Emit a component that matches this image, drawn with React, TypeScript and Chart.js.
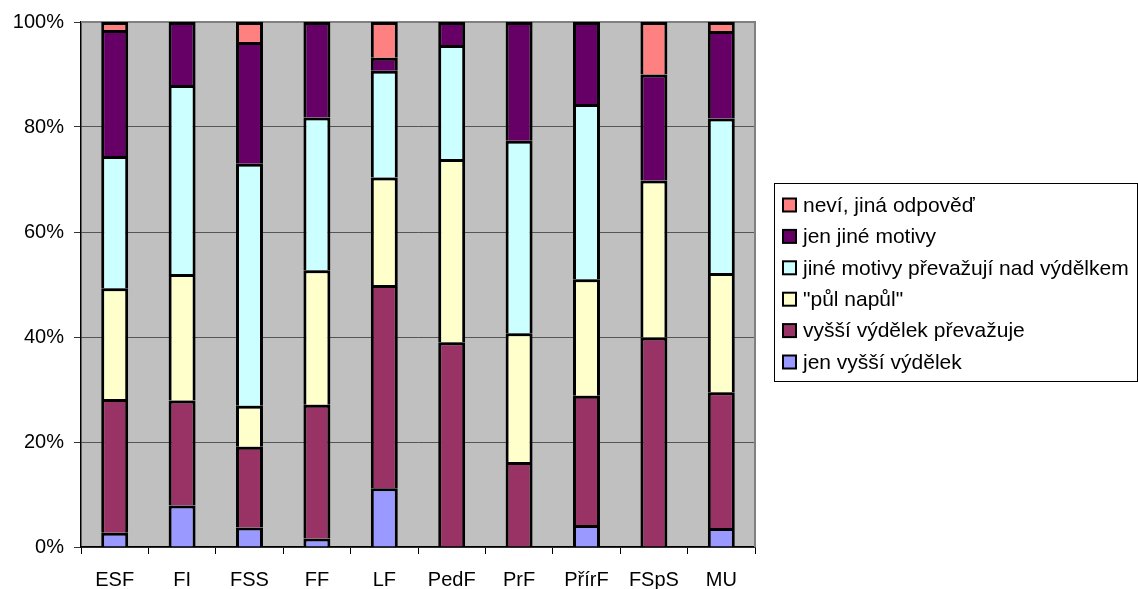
import { useEffect, useRef } from 'react';
import { Chart, registerables } from 'chart.js';

Chart.register(...registerables);

const categories = ['ESF', 'FI', 'FSS', 'FF', 'LF', 'PedF', 'PrF', 'PřírF', 'FSpS', 'MU'];
const seriesNames = [
  'jen vyšší výdělek',
  'vyšší výdělek převažuje',
  '"půl napůl"',
  'jiné motivy převažují nad výdělkem',
  'jen jiné motivy',
  'neví, jiná odpověď',
];
const seriesColors = ['#9999FF', '#993366', '#FFFFCC', '#CCFFFF', '#660066', '#FF8080'];

const jenVyssi = [2.7, 7.9, 3.7, 1.6, 11.2, 0, 0, 4.2, 0, 3.6];
const vyssiPrevazuje = [25.5, 20.0, 15.4, 25.5, 38.7, 39.0, 16.2, 24.6, 39.9, 25.9];
const pulNapul = [21.1, 24.1, 7.8, 25.6, 20.5, 34.9, 24.5, 22.2, 29.9, 22.7];
const jineMotivyPrevazuji = [25.2, 36.0, 46.1, 29.1, 20.3, 21.7, 36.7, 33.4, 0, 29.4];
const jenJineMotivy = [24.0, 12.0, 23.2, 18.2, 2.5, 4.4, 22.6, 15.6, 20.2, 16.7];
const nevi = [1.5, 0, 3.8, 0, 6.8, 0, 0, 0, 10.0, 1.7];

const seriesValues = [jenVyssi, vyssiPrevazuje, pulNapul, jineMotivyPrevazuji, jenJineMotivy, nevi];

const FONT = '"Liberation Sans", Arial, sans-serif';

const plotBackground = {
  id: 'plotBackground',
  beforeDraw(chart: any) {
    const { ctx, chartArea } = chart;
    ctx.save();
    ctx.fillStyle = '#C0C0C0';
    ctx.fillRect(chartArea.left, chartArea.top, chartArea.right - chartArea.left, chartArea.bottom - chartArea.top);
    ctx.restore();
  },
  beforeDatasetsDraw(chart: any) {
    const { ctx, chartArea } = chart;
    ctx.save();
    ctx.strokeStyle = '#808080';
    ctx.lineWidth = 2;
    ctx.beginPath();
    ctx.moveTo(chartArea.left, chartArea.top);
    ctx.lineTo(chartArea.right, chartArea.top);
    ctx.lineTo(chartArea.right, chartArea.bottom);
    ctx.stroke();
    ctx.restore();
  },
};

const boxLegend = {
  id: 'boxLegend',
  afterDraw(chart: any) {
    const { ctx } = chart;
    const ds = chart.data.datasets;
    ctx.save();
    ctx.strokeStyle = '#000';
    ctx.lineWidth = 1;
    ctx.strokeRect(774.5, 183.5, 363, 198);
    ctx.font = `21px ${FONT}`;
    ctx.textBaseline = 'middle';
    ctx.textAlign = 'left';
    for (let k = 0; k < ds.length; k++) {
      const d = ds[ds.length - 1 - k];
      const y = 205 + k * 31.4;
      ctx.fillStyle = d.backgroundColor;
      ctx.fillRect(783, y - 6.5, 13, 13);
      ctx.lineWidth = 2;
      ctx.strokeStyle = '#000';
      ctx.strokeRect(783, y - 6.5, 13, 13);
      ctx.fillStyle = '#000';
      ctx.fillText(d.label, 803, y + 1);
    }
    ctx.restore();
  },
};

export default function App() {
  const ref = useRef<HTMLCanvasElement>(null);

  useEffect(() => {
    if (!ref.current) return;
    Chart.defaults.color = '#000';
    const chart = new Chart(ref.current, {
      type: 'bar',
      data: {
        labels: categories,
        datasets: seriesNames.map((name, i) => ({
          label: name,
          data: seriesValues[i],
          backgroundColor: seriesColors[i],
          borderColor: '#000',
          borderWidth: 3,
          barPercentage: 0.4,
          categoryPercentage: 1,
        })),
      },
      options: {
        animation: false,
        responsive: true,
        maintainAspectRatio: false,
        layout: { padding: { left: 0, top: 22, right: 383, bottom: 0 } },
        plugins: {
          legend: { display: false },
          tooltip: { enabled: false },
        },
        scales: {
          x: {
            stacked: true,
            afterFit: (s: any) => {
              s.height = 42;
            },
            grid: {
              drawOnChartArea: false,
              drawTicks: true,
              tickLength: 7,
              tickColor: '#000',
              offset: true,
            },
            border: { color: '#000', width: 1.5 },
            ticks: { font: { family: FONT, size: 20 }, color: '#000', padding: 14, maxRotation: 0 },
          },
          y: {
            stacked: true,
            min: 0,
            max: 100,
            afterFit: (s: any) => {
              s.width = 81;
            },
            grid: {
              color: '#555',
              lineWidth: 1,
              drawTicks: true,
              tickLength: 7,
              tickColor: '#333',
            },
            border: { color: '#000', width: 1.5 },
            ticks: {
              stepSize: 20,
              font: { family: FONT, size: 20 },
              color: '#000',
              padding: 10,
              callback: (v: any) => `${v}%`,
            },
          },
        },
      },
      plugins: [plotBackground, boxLegend],
    });
    return () => chart.destroy();
  }, []);

  return (
    <div style={{ position: 'absolute', left: 0, top: 0, width: 1138, height: 589, background: '#fff' }}>
      <canvas ref={ref} />
    </div>
  );
}
